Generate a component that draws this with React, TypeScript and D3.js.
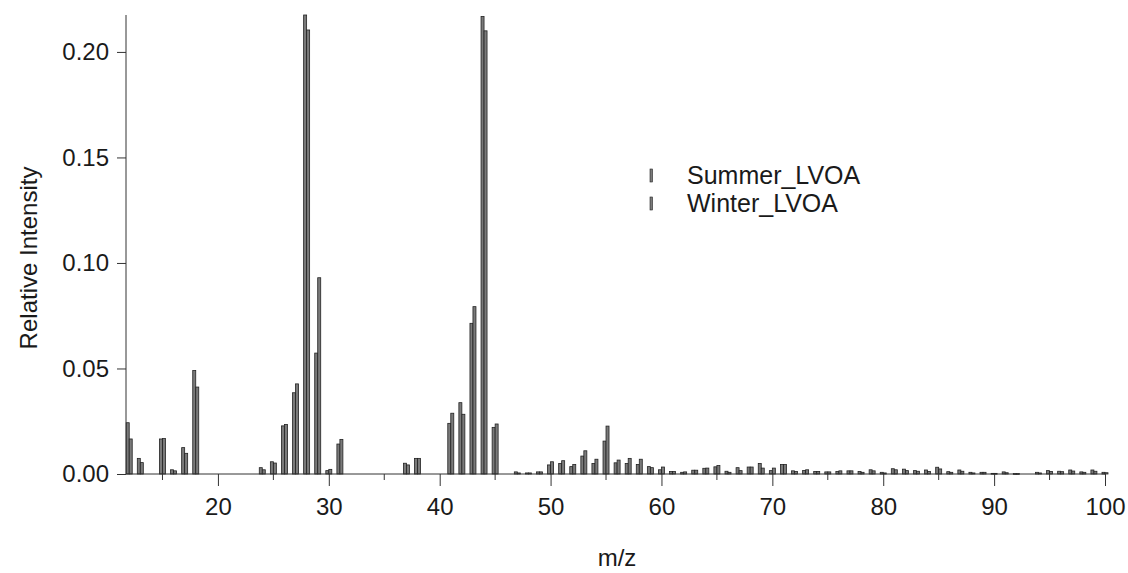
import React, { useEffect, useRef } from "react";
import * as d3 from "d3";

// m/z channels 12..100
const mzValues = d3.range(12, 101);

const summerLVOA = [
    0.0243, 0.0074, 0, 0.0166, 0.002, 0.0125, 0.049, 0, 0, 0, 0, 0,
    0.003, 0.0058, 0.0228, 0.0385, 0.2175, 0.0573, 0.0016, 0.0142, 0, 0,
    0, 0, 0, 0.0051, 0.0074, 0, 0, 0.024, 0.0338, 0.0714, 0.2168, 0.0221,
    0, 0.001, 0.0005, 0.001, 0.0043, 0.005, 0.0035, 0.0085, 0.005, 0.0156,
    0.0053, 0.005, 0.0045, 0.0035, 0.002, 0.0012, 0.0008, 0.0018, 0.0027,
    0.0034, 0.0013, 0.003, 0.0033, 0.005, 0.0016, 0.0045, 0.0015, 0.0017,
    0.0012, 0.001, 0.0012, 0.0015, 0.0012, 0.002, 0.0008, 0.0025, 0.0023,
    0.0016, 0.0019, 0.0032, 0.0011, 0.0019, 0.0008, 0.0008, 0.0003, 0.001,
    0.0002, 0, 0.0008, 0.0016, 0.0013, 0.0019, 0.001, 0.0019, 0.0008,
];

const winterLVOA = [
    0.0166, 0.0054, 0, 0.0168, 0.0015, 0.0098, 0.0412, 0, 0, 0, 0, 0,
    0.002, 0.0052, 0.0235, 0.0427, 0.2104, 0.093, 0.0022, 0.0164, 0, 0,
    0, 0, 0, 0.0043, 0.0074, 0, 0, 0.0288, 0.0283, 0.0793, 0.21, 0.0237,
    0, 0.0005, 0.0005, 0.001, 0.0058, 0.0063, 0.0045, 0.011, 0.007, 0.0227,
    0.0066, 0.0074, 0.007, 0.003, 0.0033, 0.0012, 0.001, 0.0018, 0.0028,
    0.004, 0.0008, 0.0016, 0.0033, 0.0028, 0.0028, 0.0045, 0.0012, 0.002,
    0.0012, 0.001, 0.0015, 0.0015, 0.0008, 0.0015, 0.0005, 0.002, 0.0016,
    0.0013, 0.0012, 0.0024, 0.0008, 0.0013, 0.0005, 0.0008, 0.0003, 0.0006,
    0.0002, 0, 0.0005, 0.0012, 0.0011, 0.0014, 0.0008, 0.0013, 0.0006,
];

const seriesNames = ["Summer_LVOA", "Winter_LVOA"];
const yTicks = [0, 0.05, 0.1, 0.15, 0.2];
const xMajorTicks = [20, 30, 40, 50, 60, 70, 80, 90, 100];
const xMinorTicks = [15, 25, 35, 45, 55, 65, 75, 85, 95];

const FONT = "Arial, 'Liberation Sans', sans-serif";

const App = () => {
    const svgRef = useRef(null);

    useEffect(() => {
        const width = 1128;
        const height = 573;
        const svg = d3.select(svgRef.current).attr("width", width).attr("height", height);
        svg.selectAll("*").remove();

        const x = d3.scaleLinear().domain([11.71, 100]).range([126, 1105]);
        const y = d3.scaleLinear().domain([0, 0.2175]).range([474, 15]);
        // offset of each series bar around its m/z position
        const band = d3.scaleBand().domain(seriesNames).range([-3, 3]);

        const rows = mzValues.map((mz, i) => ({
            mz,
            values: [summerLVOA[i], winterLVOA[i]],
        }));

        // bars
        const groups = svg
            .append("g")
            .selectAll("g")
            .data(rows)
            .enter()
            .append("g")
            .attr("transform", (d) => `translate(${x(d.mz)},0)`);

        groups
            .selectAll("rect")
            .data((d) => d.values.map((v, k) => ({ v, name: seriesNames[k] })))
            .enter()
            .filter((d) => d.v > 0)
            .append("rect")
            .attr("x", (d) => band(d.name))
            .attr("width", band.bandwidth())
            .attr("y", (d) => y(d.v))
            .attr("height", (d) => Math.max(0.8, y(0) - y(d.v)))
            .attr("fill", "#7a7a7a")
            .attr("stroke", "#222")
            .attr("stroke-width", 0.8);

        // y axis
        svg.append("g")
            .attr("transform", `translate(126,0)`)
            .call(d3.axisLeft(y).tickValues(yTicks).tickSize(9).tickPadding(8).tickFormat(d3.format(".2f")))
            .call((g) => g.select(".domain").attr("d", `M0,15V474`).attr("stroke", "#333"))
            .call((g) => g.selectAll(".tick line").attr("stroke", "#333"))
            .call((g) =>
                g.selectAll("text").attr("font-family", FONT).attr("font-size", 24).attr("fill", "#1a1a1a")
            );

        // x axis
        const xAxis = svg.append("g").attr("transform", `translate(0,474)`);
        xAxis
            .call(d3.axisBottom(x).tickValues(xMajorTicks).tickSize(12).tickPadding(12).tickFormat(d3.format("d")))
            .call((g) => g.select(".domain").attr("d", `M126,0H1105`).attr("stroke", "#333"))
            .call((g) => g.selectAll(".tick line").attr("stroke", "#333"))
            .call((g) =>
                g.selectAll("text").attr("font-family", FONT).attr("font-size", 24).attr("fill", "#1a1a1a")
            );
        xAxis
            .append("g")
            .selectAll("line")
            .data(xMinorTicks)
            .enter()
            .append("line")
            .attr("x1", (d) => x(d))
            .attr("x2", (d) => x(d))
            .attr("y1", 0)
            .attr("y2", 6)
            .attr("stroke", "#333");

        // axis titles
        svg.append("text")
            .attr("x", 617)
            .attr("y", 566)
            .attr("text-anchor", "middle")
            .attr("font-family", FONT)
            .attr("font-size", 24)
            .attr("fill", "#1a1a1a")
            .text("m/z");

        svg.append("text")
            .attr("transform", "translate(37,258) rotate(-90)")
            .attr("text-anchor", "middle")
            .attr("font-family", FONT)
            .attr("font-size", 24)
            .attr("fill", "#1a1a1a")
            .text("Relative Intensity");

        // legend
        const legend = svg
            .append("g")
            .selectAll("g")
            .data(seriesNames)
            .enter()
            .append("g")
            .attr("transform", (d, i) => `translate(650,${184 + i * 28})`);
        legend
            .append("rect")
            .attr("x", 0)
            .attr("y", -15)
            .attr("width", 2.5)
            .attr("height", 13)
            .attr("fill", "#7a7a7a")
            .attr("stroke", "#222")
            .attr("stroke-width", 0.6);
        legend
            .append("text")
            .attr("x", 37)
            .attr("y", 0)
            .attr("font-family", FONT)
            .attr("font-size", 25)
            .attr("fill", "#1a1a1a")
            .text((d) => d);
    }, []);

    return (
        <svg
            ref={svgRef}
            style={{ position: "absolute", left: 0, top: 0, background: "#fff" }}
        ></svg>
    );
};

export default App;
